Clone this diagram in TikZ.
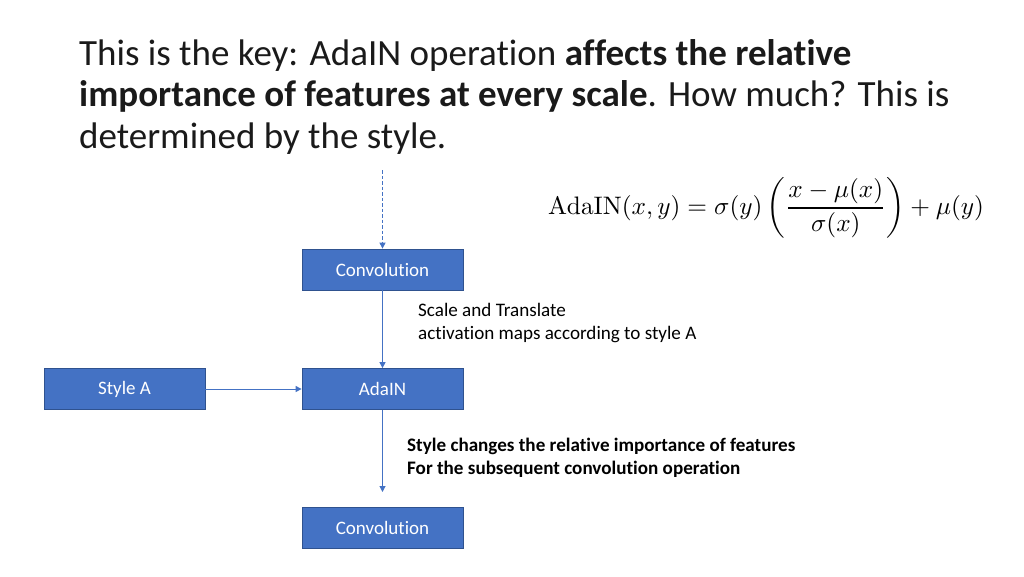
\documentclass[tikz,border=0pt]{standalone}
\usepackage{fontspec}
\usepackage{amsmath}
\usepackage{graphicx}
\usetikzlibrary{arrows.meta}
\newfontfamily\calibri[Ligatures=NoCommon]{Carlito}
\definecolor{boxblue}{HTML}{4472C4}
\definecolor{boxedge}{HTML}{2F528F}
\definecolor{arrowblue}{HTML}{4472C4}
\definecolor{titlegray}{HTML}{1A1A1A}
\tikzset{
    block/.style={rectangle, fill=boxblue, draw=boxedge, line width=0.8pt,
        minimum width=161pt, minimum height=41pt, inner sep=0pt,
        text=white, font=\calibri\fontsize{19}{22}\selectfont},
    link/.style={draw=arrowblue, line width=1pt,
        -{Triangle[width=6pt,length=6pt]}},
    note/.style={anchor=north west, inner sep=0pt, align=left,
        font=\calibri\fontsize{19.1}{23}\selectfont}
}
\begin{document}
\begin{tikzpicture}[x=1pt, y=-1pt]
    \useasboundingbox (0,0) rectangle (1024,576);

    % Title
    \node[anchor=north west, inner sep=0pt, align=left, text=titlegray,
        font=\calibri\fontsize{37}{41.5}\selectfont] (title) at (79,39)
        {This is the key: AdaIN operation \textbf{affects the relative}\\
         \textbf{importance of features at every scale}. How much? This is\\
         determined by the style.};

    % Equation
    \node[inner sep=0pt] (eqn) at (766,208)
        {\resizebox{436pt}{!}{$\displaystyle \mathrm{AdaIN}(x,y)=\sigma(y)\left(\frac{x-\mu(x)}{\sigma(x)}\right)+\mu(y)$}};

    % Blocks
    \node[block] (conva) at (382.5,269.5) {Convolution};
    \node[block] (adain) at (382.5,389) {AdaIN};
    \node[block] (stylea) at (124.5,389) {Style A};
    \node[block] (convb) at (382.5,528) {Convolution};

    % Free ends
    \coordinate (input) at (382.5,170);
    \coordinate (output) at (382.5,492);

    % Connectors
    \draw[link, dash pattern=on 3.5pt off 2pt] (input) -- (conva.north);
    \draw[link] (conva.south) -- (adain.north);
    \draw[link] (stylea.east) -- (adain.west);
    \draw[link] (adain.south) -- (output);

    % Notes
    \node[note] (scalenote) at (418,303)
        {Scale and Translate\\activation maps according to style A};
    \node[note, font=\calibri\bfseries\fontsize{19.1}{23}\selectfont] (stylenote) at (407,438)
        {Style changes the relative importance of features\\For the subsequent convolution operation};
\end{tikzpicture}
\end{document}
